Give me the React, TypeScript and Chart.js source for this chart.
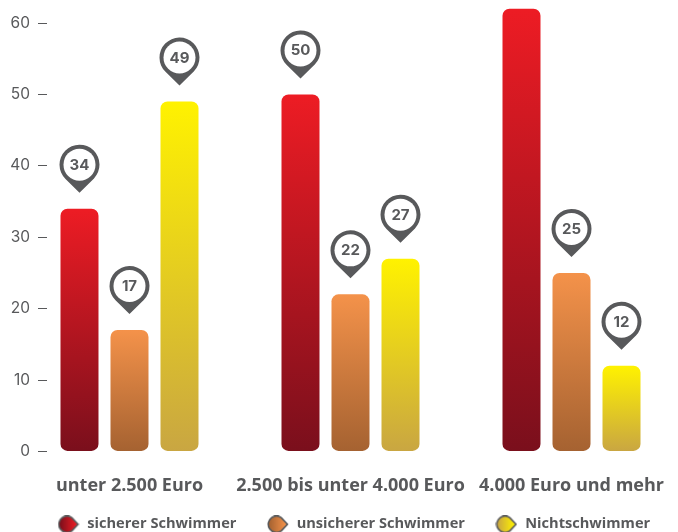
import React, { useEffect, useRef } from "react";
import { Chart, registerables } from "chart.js";

Chart.register(...registerables);

const categories = ["unter 2.500 Euro", "2.500 bis unter 4.000 Euro", "4.000 Euro und mehr"];
const categoryIndex = [0, 1, 2];
const sicherer = [34, 50, 62];
const unsicherer = [17, 22, 25];
const nicht = [49, 27, 12];
const seriesNames = ["sicherer Schwimmer", "unsicherer Schwimmer", "Nichtschwimmer"];
const topColors = ["#ed1c24", "#f4924a", "#fff200"];
const bottomColors = ["#7a0f1c", "#a56231", "#c9a642"];
const ink = "#58595b";

function barGradient(topC: string, botC: string) {
  return (ctx: any) => {
    const chart = ctx.chart;
    const y = chart.scales.y;
    if (!y || ctx.parsed == null || ctx.type !== "data") return topC;
    const top = y.getPixelForValue(ctx.parsed.y);
    const bot = y.getPixelForValue(0);
    if (!isFinite(top) || !isFinite(bot)) return topC;
    const g = chart.ctx.createLinearGradient(0, top, 0, bot);
    g.addColorStop(0, topC);
    g.addColorStop(1, botC);
    return g;
  };
}

function legendMarker(topC: string, botC: string) {
  const c = document.createElement("canvas");
  c.width = 22;
  c.height = 18;
  const x = c.getContext("2d")!;
  const cx = 9.5, cy = 9, r = 8.2;
  x.beginPath();
  x.arc(cx, cy, r, Math.PI * 0.3, Math.PI * 1.7);
  x.lineTo(20.5, cy);
  x.closePath();
  const g = x.createLinearGradient(2, 0, 19, 0);
  g.addColorStop(0, botC);
  g.addColorStop(1, topC);
  x.fillStyle = g;
  x.fill();
  x.lineWidth = 1.6;
  x.strokeStyle = ink;
  x.stroke();
  return c;
}

const legendPlacement = {
  id: "legendPlacement",
  afterLayout(chart: any) {
    chart.legend.left = 27;
    chart.legend.top = 487;
  },
};

const pinPlugin = {
  id: "pins",
  afterDatasetsDraw(chart: any) {
    const ctx = chart.ctx;
    chart.data.datasets.forEach((ds: any, i: number) => {
      const meta = chart.getDatasetMeta(i);
      meta.data.forEach((el: any, j: number) => {
        const cx = el.x;
        const cy = el.y - 44;
        const R = 20;
        const tip = 28;
        const a = Math.acos(R / tip);
        ctx.save();
        ctx.beginPath();
        ctx.arc(cx, cy, R, Math.PI / 2 + a, Math.PI / 2 - a);
        ctx.lineTo(cx, cy + tip);
        ctx.closePath();
        ctx.fillStyle = ink;
        ctx.fill();
        ctx.beginPath();
        ctx.arc(cx, cy, 16, 0, Math.PI * 2);
        ctx.fillStyle = "#ffffff";
        ctx.fill();
        ctx.fillStyle = ink;
        ctx.font = "700 15px Inter";
        ctx.textAlign = "center";
        ctx.textBaseline = "middle";
        ctx.fillText(String(ds.data[j].y), cx, cy + 0.5);
        ctx.restore();
      });
    });
  },
};

export default function App() {
  const ref = useRef<HTMLCanvasElement>(null);
  useEffect(() => {
    const series = [sicherer, unsicherer, nicht];
    const markers = seriesNames.map((_, i) => legendMarker(topColors[i], bottomColors[i]));
    const chart = new Chart(ref.current!, {
      type: "bar",
      data: {
        datasets: series.map((vals, i) => ({
          label: seriesNames[i],
          data: vals.map((v, k) => ({ x: categoryIndex[k], y: v })),
          backgroundColor: barGradient(topColors[i], bottomColors[i]),
          borderRadius: 7,
          borderSkipped: false,
          categoryPercentage: 150 / 221,
          barPercentage: 38 / 50,
        })),
      },
      options: {
        responsive: false,
        animation: false,
        devicePixelRatio: 1,
        layout: { padding: { top: 1.6, right: -30, left: 0, bottom: -24 } },
        scales: {
          x: {
            type: "linear",
            offset: false,
            min: -0.3733,
            max: 2.4819,
            grid: { display: false },
            border: { display: false },
            afterBuildTicks: (s: any) => {
              s.ticks = categoryIndex.map((value) => ({ value }));
            },
            afterFit: (s: any) => {
              s.height = 50;
              s.paddingLeft = 0;
              s.paddingRight = 0;
            },
            ticks: {
              autoSkip: false,
              maxRotation: 0,
              padding: 15.5,
              color: ink,
              font: { family: "Open Sans", weight: "bold", size: 18 },
              callback: (v: any) => categories[v] ?? "",
            },
          },
          y: {
            min: 0,
            max: 63,
            afterFit: (s: any) => {
              s.width = 47;
              s.paddingTop = 0;
              s.paddingBottom = 0;
            },
            border: { display: false },
            grid: { drawOnChartArea: false, tickLength: 9, tickColor: ink, tickWidth: 1 },
            ticks: {
              stepSize: 10,
              includeBounds: false,
              padding: 8,
              color: ink,
              font: { family: "Inter", size: 15.5 },
            },
          },
        },
        plugins: {
          tooltip: { enabled: false },
          legend: {
            position: "bottom",
            align: "start",
            labels: {
              usePointStyle: true,
              pointStyleWidth: 23,
              color: ink,
              padding: 30,
              font: { family: "Open Sans", weight: "bold", size: 14.6 },
              generateLabels: () =>
                seriesNames.map((text, i) => ({
                  text,
                  pointStyle: markers[i],
                  fontColor: ink,
                  datasetIndex: i,
                  lineWidth: 0,
                })),
            },
          },
        },
      },
      plugins: [pinPlugin, legendPlacement],
    } as any);
    return () => chart.destroy();
  }, []);
  return (
    <div style={{ position: "fixed", left: 0, top: 0, width: 678, height: 532, background: "#fff" }}>
      <canvas ref={ref} width={678} height={532} style={{ display: "block" }} />
    </div>
  );
}
